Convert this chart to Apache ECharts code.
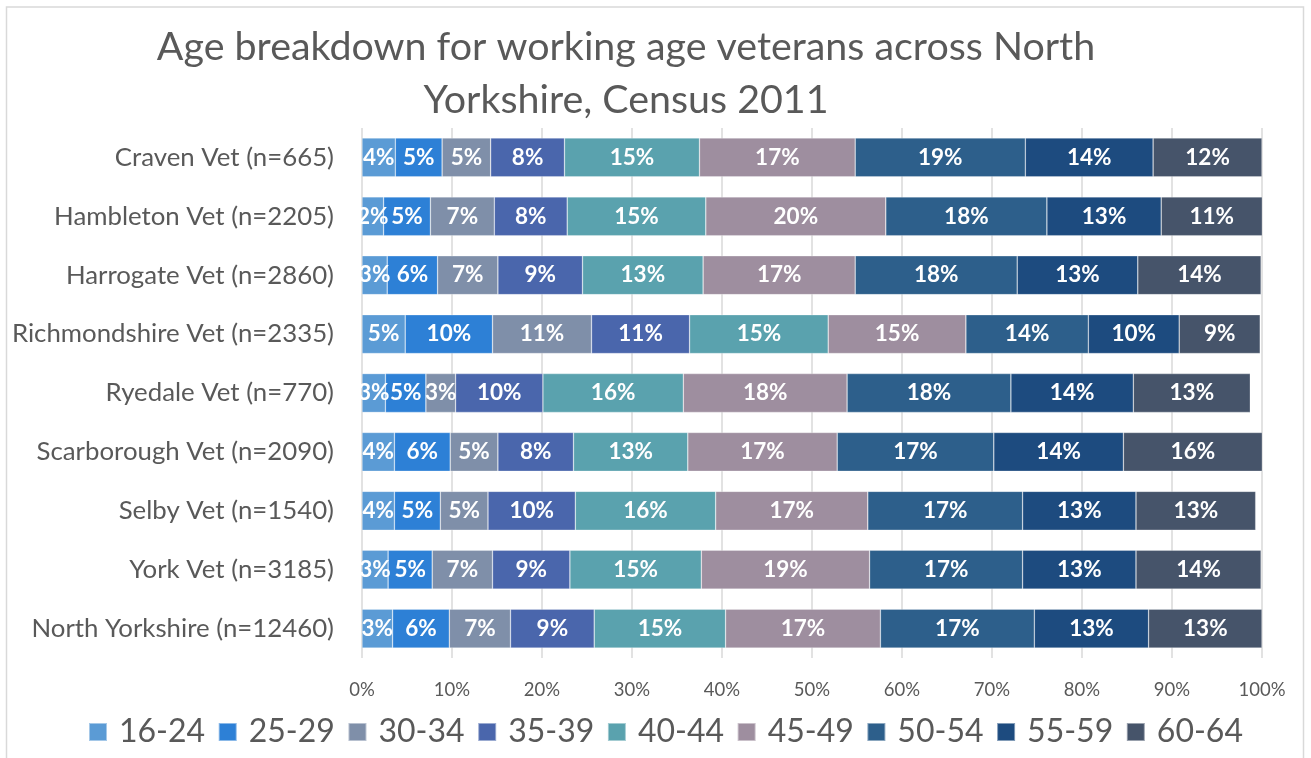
<!DOCTYPE html>
<html>
<head>
<meta charset="utf-8">
<script src="https://cdn.jsdelivr.net/npm/echarts@6/dist/echarts.min.js"></script>
<style>
html,body{margin:0;padding:0;background:#fff;}
#chart{width:1311px;height:758px;}
</style>
</head>
<body>
<div id="chart"></div>
<script>
// areas, top to bottom
const areas = [
  'Craven Vet (n=665)',
  'Hambleton Vet (n=2205)',
  'Harrogate Vet (n=2860)',
  'Richmondshire Vet (n=2335)',
  'Ryedale Vet (n=770)',
  'Scarborough Vet (n=2090)',
  'Selby Vet (n=1540)',
  'York Vet (n=3185)',
  'North Yorkshire (n=12460)'
];

const ageGroups = ['16-24','25-29','30-34','35-39','40-44','45-49','50-54','55-59','60-64'];

// share of veterans (%) in each age group, one value per area
const age16_24 = [3.7, 2.4, 2.8, 4.8, 2.6, 3.6, 3.6, 2.9, 3.4];
const age25_29 = [5.2, 5.2, 5.6, 9.7, 4.5, 6.2, 5.1, 4.9, 6.3];
const age30_34 = [5.4, 7.1, 6.7, 11.0, 3.3, 5.3, 5.3, 6.7, 6.8];
const age35_39 = [8.2, 8.1, 9.4, 10.9, 9.7, 8.4, 9.7, 8.6, 9.3];
const age40_44 = [15.0, 15.4, 13.4, 15.4, 15.6, 12.7, 15.6, 14.6, 14.6];
const age45_49 = [17.3, 20.0, 16.9, 15.3, 18.2, 16.6, 16.9, 18.7, 17.2];
const age50_54 = [18.9, 17.9, 18.0, 13.6, 18.2, 17.4, 17.2, 17.0, 17.1];
const age55_59 = [14.2, 12.7, 13.4, 10.1, 13.6, 14.4, 12.6, 12.6, 12.7];
const age60_64 = [12.1, 11.3, 13.7, 9.0, 13.0, 15.8, 13.3, 13.9, 12.6];

const ageData = [age16_24, age25_29, age30_34, age35_39, age40_44, age45_49, age50_54, age55_59, age60_64];

const colors = ['#5b9bd5','#2d80d6','#7f8fa9','#4a66ac','#5aa2ae','#9e8e9f','#2d5f8b','#1d4b7f','#46546a'];

const fontFam = 'Lato, "Open Sans", sans-serif';

const series = ageGroups.map((name, i) => ({
  name: name,
  type: 'bar',
  stack: 'total',
  barCategoryGap: '34%',
  data: ageData[i],
  itemStyle: {
    color: colors[i],
    borderColor: 'rgba(255,255,255,0.45)',
    borderWidth: 0.6
  },
  label: {
    show: true,
    position: 'inside',
    color: '#fff',
    fontWeight: 'bold',
    fontSize: 22.5,
    fontFamily: fontFam,
    formatter: p => Math.round(p.value) + '%'
  }
}));

const option = {
  animation: false,
  backgroundColor: '#fff',
  color: colors,
  title: {
    text: 'Age breakdown for working age veterans across North\nYorkshire, Census 2011',
    left: 621,
    textAlign: 'center',
    top: 16,
    textStyle: {
      color: '#595959',
      fontSize: 39.4,
      fontWeight: 'normal',
      fontFamily: fontFam,
      lineHeight: 53
    }
  },
  legend: {
    data: ageGroups,
    left: 83,
    top: 711,
    icon: 'rect',
    itemWidth: 18,
    itemHeight: 18,
    itemGap: 12.6,
    textStyle: {
      color: '#595959',
      fontSize: 32,
      fontFamily: fontFam,
      padding: [0, 0, 0, 7]
    }
  },
  grid: {
    left: 362,
    right: 49,
    top: 128,
    bottom: 100,
    containLabel: false
  },
  xAxis: {
    type: 'value',
    min: 0,
    max: 100,
    interval: 10,
    axisLine: { show: false },
    axisTick: { show: false },
    splitLine: { show: true, lineStyle: { color: '#d9d9d9', width: 1.5 } },
    axisLabel: {
      color: '#595959',
      fontSize: 18.5,
      fontFamily: fontFam,
      margin: 23,
      formatter: '{value}%'
    }
  },
  yAxis: {
    type: 'category',
    inverse: true,
    data: areas,
    axisLine: { show: false },
    axisTick: { show: false },
    axisLabel: {
      color: '#595959',
      fontSize: 25.8,
      fontFamily: fontFam,
      margin: 28
    }
  },
  graphic: [{
    type: 'rect',
    shape: { x: 6.5, y: 7, width: 1297, height: 800 },
    style: { fill: 'none', stroke: '#d9d9d9', lineWidth: 1.5 },
    silent: true
  }],
  series: series
};

const myChart = echarts.init(document.getElementById('chart'));
myChart.setOption(option);
</script>
</body>
</html>
